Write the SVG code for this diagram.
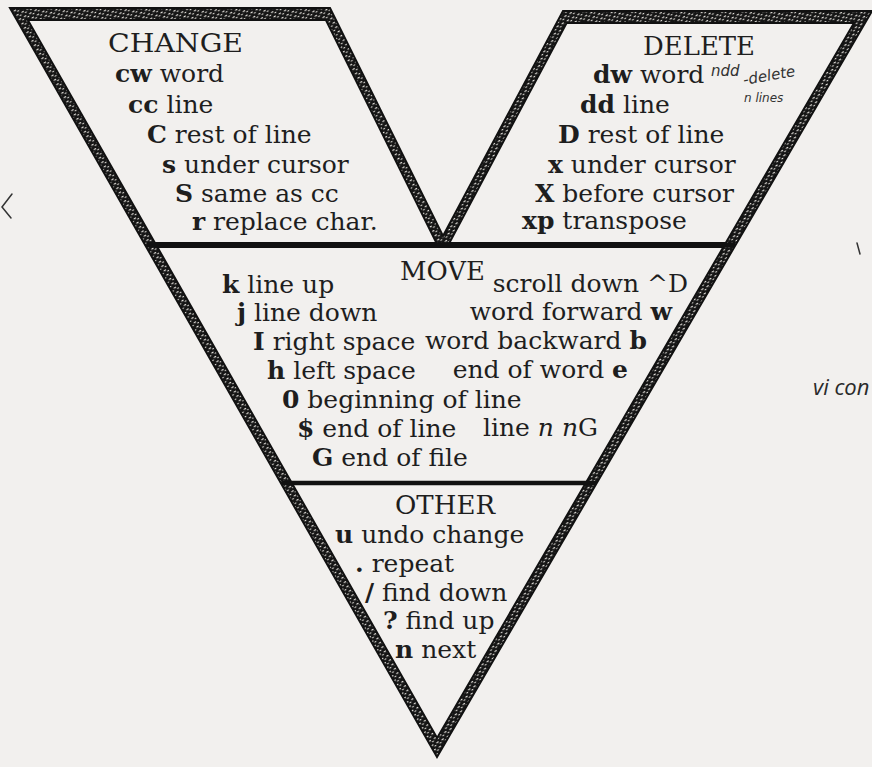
<svg xmlns="http://www.w3.org/2000/svg" width="872" height="767" viewBox="0 0 872 767">
<style>
.t{font-family:"DejaVu Serif","Liberation Serif",serif;font-size:25px;fill:#1e1e1e}
.h{font-family:"DejaVu Serif","Liberation Serif",serif;font-size:26px;fill:#1e1e1e}
.b{font-weight:bold}
.i{font-style:italic}
.hand{font-family:"DejaVu Sans",sans-serif;font-size:15px;fill:#333;font-style:italic}
.div{stroke:#111;stroke-width:5;fill:none}
.mark{stroke:#333;stroke-width:1.5;fill:none;stroke-linecap:round}
</style>
<defs>
<pattern id="rope" width="6" height="5" patternUnits="userSpaceOnUse" patternTransform="rotate(-30)">
<rect width="6" height="5" fill="#151515"/>
<rect x="0.5" y="1" width="2.4" height="1.2" fill="#ece9e4"/>
<rect x="3.4" y="3" width="1.8" height="1.1" fill="#ece9e4"/>
</pattern>
</defs>
<rect width="872" height="767" fill="#f2f0ee"/>
<g id="frame">
<path d="M10,8 L330,8 L443,236 L563,11 L872,11 L437,757 Z M27.8,20 L325.9,20 L436.5,243 L155,243 Z M566.6,23 L854,23 L725.7,243 L449.3,243 Z M157.3,247 L723.4,247 L437.1,737.9 Z" fill-rule="evenodd" fill="url(#rope)" stroke="#111" stroke-width="2" stroke-linejoin="miter"/>
</g>
<g id="connectors">
<line class="div" x1="147" y1="245" x2="735" y2="245"/>
<line class="div" x1="282" y1="483" x2="596" y2="483" style="stroke-width:4.5"/>
</g>
<g id="change">
<text class="h" x="108" y="52" textLength="135" lengthAdjust="spacingAndGlyphs">CHANGE</text>
<text class="t" x="115" y="82"><tspan class="b">cw</tspan> word</text>
<text class="t" x="128" y="113"><tspan class="b">cc</tspan> line</text>
<text class="t" x="147" y="143"><tspan class="b">C</tspan> rest of line</text>
<text class="t" x="162" y="173"><tspan class="b">s</tspan> under cursor</text>
<text class="t" x="175" y="202"><tspan class="b">S</tspan> same as cc</text>
<text class="t" x="192" y="230"><tspan class="b">r</tspan> replace char.</text>
</g>
<g id="delete">
<text class="h" x="643" y="55" textLength="112" lengthAdjust="spacingAndGlyphs">DELETE</text>
<text class="t" x="593" y="83"><tspan class="b">dw</tspan> word</text>
<text class="t" x="580" y="113"><tspan class="b">dd</tspan> line</text>
<text class="t" x="558" y="143"><tspan class="b">D</tspan> rest of line</text>
<text class="t" x="548" y="173"><tspan class="b">x</tspan> under cursor</text>
<text class="t" x="535" y="202"><tspan class="b">X</tspan> before cursor</text>
<text class="t" x="522" y="229"><tspan class="b">xp</tspan> transpose</text>
<text class="hand" x="711" y="76">ndd</text>
<text class="hand" x="744" y="85" transform="rotate(-10 744 85)">-delete</text>
<text class="hand" x="744" y="102" style="font-size:12px">n lines</text>
</g>
<g id="move">
<text class="h" x="400" y="280" textLength="85" lengthAdjust="spacingAndGlyphs">MOVE</text>
<text class="t" x="222" y="293"><tspan class="b">k</tspan> line up</text>
<text class="t" x="688" y="292" text-anchor="end">scroll down ^D</text>
<text class="t" x="237" y="321"><tspan class="b">j</tspan> line down</text>
<text class="t" x="672" y="320" text-anchor="end">word forward <tspan class="b">w</tspan></text>
<text class="t" x="253" y="350"><tspan class="b">I</tspan> right space</text>
<text class="t" x="647" y="349" text-anchor="end">word backward <tspan class="b">b</tspan></text>
<text class="t" x="267" y="379"><tspan class="b">h</tspan> left space</text>
<text class="t" x="628" y="378" text-anchor="end">end of word <tspan class="b">e</tspan></text>
<text class="t" x="282" y="408"><tspan class="b">0</tspan> beginning of line</text>
<text class="t" x="297" y="437"><tspan class="b">$</tspan> end of line</text>
<text class="t" x="598" y="436" text-anchor="end">line <tspan class="i">n</tspan>  <tspan class="i">n</tspan>G</text>
<text class="t" x="312" y="466"><tspan class="b">G</tspan> end of file</text>
</g>
<g id="other">
<text class="h" x="395" y="514" textLength="100" lengthAdjust="spacingAndGlyphs">OTHER</text>
<text class="t" x="335" y="543"><tspan class="b">u</tspan> undo change</text>
<text class="t" x="355" y="572"><tspan class="b">.</tspan> repeat</text>
<text class="t" x="365" y="601"><tspan class="b">/</tspan> find down</text>
<text class="t" x="383" y="629"><tspan class="b">?</tspan> find up</text>
<text class="t" x="395" y="658"><tspan class="b">n</tspan> next</text>
</g>
<g id="notes">
<text x="813" y="395" style="font-family:'Open Sans',sans-serif;font-style:italic;font-size:22px;fill:#2a2a2a">vi con</text>
<polyline class="mark" points="12,194 2,207 11,218"/>
<line class="mark" x1="857" y1="243" x2="860" y2="254"/>
</g>
</svg>
